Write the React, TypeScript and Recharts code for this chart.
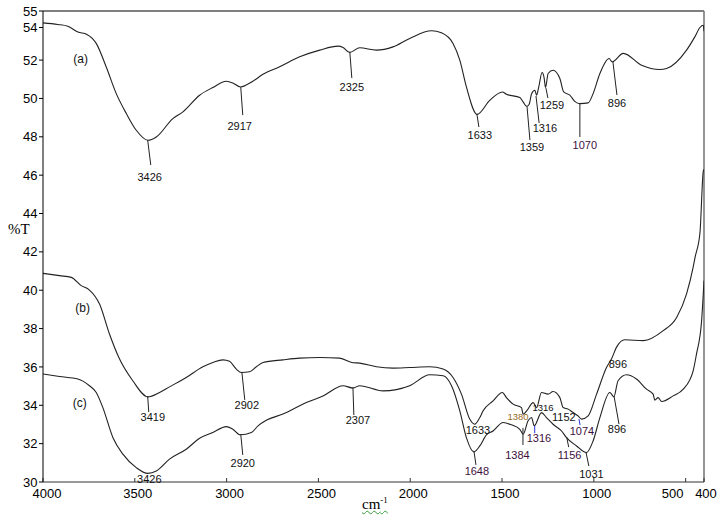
import React from 'react';
import { LineChart, Line, XAxis, YAxis, ReferenceLine, ReferenceDot } from 'recharts';

// FTIR spectra, wavenumber (cm-1) vs %T
const waveA = [4000, 3919, 3865, 3810, 3761, 3710, 3656, 3601, 3546, 3492, 3429, 3383, 3293, 3238, 3147, 3075, 3002, 2966, 2925, 2857, 2802, 2711, 2602, 2493, 2393, 2366, 2330, 2275, 2184, 2094, 2003, 1884, 1830, 1767, 1730, 1694, 1636, 1567, 1498, 1476, 1403, 1385, 1366, 1352, 1339, 1321, 1312, 1300, 1282, 1271, 1263, 1249, 1222, 1185, 1164, 1131, 1104, 1076, 1031, 1004, 967, 917, 900, 840, 740, 640, 604, 495, 450, 422, 404, 400];
const transA = [53.94, 53.86, 53.77, 53.46, 53.34, 52.87, 51.65, 50.25, 49.21, 48.34, 47.82, 47.99, 48.95, 49.3, 50.17, 50.57, 50.9, 50.81, 50.6, 50.9, 51.26, 51.65, 52.17, 52.52, 52.73, 52.66, 52.4, 52.64, 52.52, 52.69, 53.13, 53.53, 53.42, 52.87, 52.0, 50.6, 49.17, 49.9, 50.34, 50.22, 50.05, 49.82, 49.59, 49.7, 50.25, 50.43, 50.17, 50.6, 51.35, 51.09, 50.57, 51.3, 51.47, 51.04, 50.34, 50.17, 49.85, 49.73, 49.77, 50.25, 51.3, 52.08, 51.91, 52.35, 51.73, 51.51, 51.56, 52.52, 53.21, 53.7, 53.82, 53.5];

const waveB = [4000, 3910, 3846, 3792, 3747, 3692, 3638, 3583, 3511, 3429, 3365, 3311, 3220, 3129, 3075, 3020, 2984, 2947, 2920, 2875, 2838, 2802, 2693, 2602, 2493, 2384, 2312, 2275, 2184, 2094, 2003, 1894, 1821, 1767, 1721, 1676, 1649, 1621, 1603, 1549, 1498, 1476, 1440, 1394, 1385, 1366, 1330, 1312, 1285, 1249, 1222, 1185, 1167, 1140, 1113, 1086, 1067, 1031, 985, 931, 904, 877, 831, 731, 622, 549, 495, 459, 449, 422, 404, 400];
const transB = [40.88, 40.76, 40.67, 40.24, 40.01, 39.28, 37.72, 36.41, 35.28, 34.44, 34.67, 34.96, 35.45, 36.01, 36.23, 36.37, 36.29, 35.89, 35.71, 35.75, 36.01, 36.23, 36.37, 36.46, 36.49, 36.46, 36.22, 36.2, 36.01, 35.94, 35.97, 36.01, 35.89, 35.45, 34.58, 33.28, 33.01, 33.36, 33.71, 34.23, 34.67, 34.4, 34.06, 33.88, 33.54, 33.71, 34.14, 33.88, 34.67, 34.58, 34.72, 34.4, 33.88, 33.8, 33.62, 33.45, 33.28, 33.45, 34.58, 35.97, 36.41, 37.02, 37.42, 37.37, 37.89, 38.58, 39.81, 41.2, 41.7, 43.0, 46.2, 46.3];

const waveC = [4000, 3910, 3810, 3747, 3710, 3674, 3619, 3565, 3492, 3429, 3383, 3311, 3220, 3147, 3075, 3002, 2966, 2925, 2865, 2829, 2784, 2693, 2566, 2475, 2366, 2312, 2275, 2148, 2003, 1894, 1821, 1775, 1730, 1694, 1654, 1621, 1585, 1549, 1494, 1449, 1403, 1385, 1358, 1339, 1325, 1285, 1258, 1222, 1176, 1149, 1094, 1040, 1004, 967, 913, 891, 868, 822, 768, 713, 677, 668, 650, 631, 568, 513, 459, 441, 413, 404, 400];
const transC = [35.63, 35.5, 35.37, 35.02, 34.67, 33.88, 32.31, 31.45, 30.75, 30.45, 30.57, 31.19, 31.71, 32.28, 32.58, 32.89, 32.75, 32.46, 32.58, 32.93, 33.22, 33.54, 34.14, 34.49, 35.02, 34.9, 35.02, 34.75, 35.02, 35.59, 35.54, 35.02, 33.71, 32.31, 31.57, 31.88, 32.46, 32.66, 33.1, 32.98, 32.75, 32.49, 33.19, 33.36, 32.93, 33.62, 33.36, 33.01, 32.66, 32.31, 31.88, 31.53, 32.14, 33.36, 34.67, 34.44, 35.28, 35.59, 35.37, 34.84, 34.58, 34.27, 34.4, 34.2, 34.49, 34.84, 35.8, 36.67, 38.41, 39.8, 40.5];

const xTicks = [4000, 3500, 3000, 2500, 2000, 1500, 1000, 500, 400];
const yTicks = [30, 32, 34, 36, 38, 40, 42, 44, 46, 48, 50, 52, 53.7, 54.56];
const yTickLabels = ['30', '32', '34', '36', '38', '40', '42', '44', '46', '48', '50', '52', '54', '55'];

const curveNames = ['(a)', '(b)', '(c)'];
const curveNameAt = [[3795, 52.06], [3784, 39.07], [3800, 34.12]];

type Peak = {
  text: string;
  lx: number;
  ly: number;
  from?: [number, number];
  to?: [number, number];
  kind?: 'purple' | 'small' | 'smallOrange' | 'blueTick';
};

const peaksA: Peak[] = [
  { text: '3426', from: [3430, 47.83], to: [3413, 46.53], lx: 3419, ly: 45.9 },
  { text: '2917', from: [2923, 50.59], to: [2912, 49.13], lx: 2929, ly: 48.56 },
  { text: '2325', from: [2329, 52.42], to: [2318, 51.06], lx: 2318, ly: 50.6 },
  { text: '1633', from: [1637, 49.19], to: [1626, 48.51], lx: 1621, ly: 48.09 },
  { text: '1359', from: [1364, 49.6], to: [1348, 47.83], lx: 1337, ly: 47.47 },
  { text: '1316', from: [1315, 50.13], to: [1298, 48.72], lx: 1266, ly: 48.46 },
  { text: '1259', from: [1261, 50.54], to: [1250, 50.02], lx: 1228, ly: 49.66 },
  { text: '1070', from: [1076, 49.76], to: [1076, 47.99], lx: 1049, ly: 47.57, kind: 'purple' },
  { text: '896', from: [896, 51.9], to: [874, 50.18], lx: 874, ly: 49.76 },
];

const peaksB: Peak[] = [
  { text: '3419', from: [3430, 34.48], to: [3424, 33.65], lx: 3402, ly: 33.39 },
  { text: '2902', from: [2917, 35.74], to: [2901, 34.28], lx: 2890, ly: 34.01 },
  { text: '1633', lx: 1631, ly: 32.71 },
  { text: '1380', lx: 1413, ly: 33.39, kind: 'smallOrange' },
  { text: '1316', lx: 1277, ly: 33.86, kind: 'small' },
  { text: '1152', lx: 1163, ly: 33.39 },
  { text: '1074', from: [1081, 33.28], to: [1075, 32.97], lx: 1065, ly: 32.66, kind: 'blueTick' },
  { text: '896', lx: 869, ly: 36.15 },
];

const peaksC: Peak[] = [
  { text: '3426', lx: 3421, ly: 30.17 },
  { text: '2920', from: [2923, 32.5], to: [2912, 31.41], lx: 2912, ly: 30.99 },
  { text: '2307', from: [2312, 34.95], to: [2307, 33.49], lx: 2285, ly: 33.23 },
  { text: '1648', from: [1653, 31.62], to: [1642, 30.89], lx: 1637, ly: 30.57, kind: 'purple' },
  { text: '1384', from: [1386, 32.82], to: [1386, 31.93], lx: 1416, ly: 31.41, kind: 'purple' },
  { text: '1316', from: [1322, 32.92], to: [1322, 32.55], lx: 1299, ly: 32.29, kind: 'blueTick' },
  { text: '1156', from: [1148, 32.35], to: [1137, 31.82], lx: 1132, ly: 31.41, kind: 'purple' },
  { text: '1031', from: [1043, 31.56], to: [1027, 30.83], lx: 1013, ly: 30.42 },
  { text: '896', from: [890, 34.48], to: [863, 33.02], lx: 874, ly: 32.76 },
];

const toRows = (w: number[], t: number[]) => w.map((x, i) => ({ x, t: t[i] }));
const series = [toRows(waveA, transA), toRows(waveB, transB), toRows(waveC, transC)];
const allPeaks = [...peaksA, ...peaksB, ...peaksC];

const font = '"Liberation Sans", Arial, sans-serif';

const XTick = ({ x, y, payload }: any) => {
  const v = payload.value;
  const dx = v === 500 ? -13 : v === 4000 ? 4 : v === 400 ? 2 : 3;
  return (
    <text x={x + dx} y={y} dy={11} textAnchor="middle" fontSize={13} fontFamily={font} fill="#000">
      {v}
    </text>
  );
};

const peakText = (p: Peak) => (props: any) => {
  const small = p.kind === 'small' || p.kind === 'smallOrange';
  const fill = p.kind === 'smallOrange' ? '#9a6a1c' : p.kind === 'purple' || p.kind === 'blueTick' ? '#3e0f3e' : '#111';
  return (
    <text
      x={props.cx}
      y={props.cy}
      dy={small ? 3 : 4}
      textAnchor="middle"
      fontSize={small ? 9.5 : 11}
      fontFamily={font}
      fill={fill}
    >
      {p.text}
    </text>
  );
};

export default function App() {
  return (
    <div style={{ position: 'absolute', left: 0, top: 0, width: 728, height: 521, background: '#fff' }}>
      <LineChart width={728} height={521} margin={{ top: 11, right: 24, bottom: 9, left: 5 }}>
        <XAxis
          type="number"
          dataKey="x"
          domain={[400, 4000]}
          reversed
          ticks={xTicks}
          interval={0}
          allowDataOverflow
          height={30}
          tickSize={-4}
          tickMargin={9}
          stroke="#333"
          tick={<XTick />}
        />
        <YAxis
          type="number"
          dataKey="t"
          domain={[30, 54.56]}
          ticks={yTicks}
          interval={0}
          allowDataOverflow
          width={38}
          tickSize={4}
          tickMargin={1.5}
          stroke="#000"
          tick={{ fill: '#000', fontSize: 13, fontFamily: font }}
          tickFormatter={(v: number) => yTickLabels[yTicks.indexOf(v)] ?? String(v)}
        />
        <ReferenceLine y={54.56} stroke="#000" strokeWidth={1.2} />
        <ReferenceLine x={400} stroke="#7a7a7a" strokeWidth={1.6} />
        {series.map((rows, i) => (
          <Line
            key={curveNames[i]}
            data={rows}
            dataKey="t"
            type="monotone"
            stroke="#222"
            strokeWidth={1.1}
            dot={false}
            activeDot={false}
            isAnimationActive={false}
          />
        ))}
        {allPeaks.map((p, i) =>
          p.from && p.to ? (
            <ReferenceLine
              key={'l' + i}
              segment={[{ x: p.from[0], y: p.from[1] }, { x: p.to[0], y: p.to[1] }]}
              stroke={p.kind === 'blueTick' ? '#2233dd' : '#222'}
              strokeWidth={1}
              ifOverflow="visible"
            />
          ) : null
        )}
        {allPeaks.map((p, i) => (
          <ReferenceDot key={'t' + i} x={p.lx} y={p.ly} r={0} ifOverflow="visible" shape={peakText(p)} />
        ))}
        {curveNames.map((name, i) => (
          <ReferenceDot
            key={name}
            x={curveNameAt[i][0]}
            y={curveNameAt[i][1]}
            r={0}
            ifOverflow="visible"
            shape={(props: any) => (
              <text x={props.cx} y={props.cy} dy={4} textAnchor="middle" fontSize={12} fontFamily={font} fill="#111">
                {name}
              </text>
            )}
          />
        ))}
      </LineChart>
      <div style={{ position: 'absolute', left: 8, top: 221, fontFamily: '"Liberation Serif", serif', fontSize: 15 }}>%T</div>
      <div
        style={{
          position: 'absolute',
          left: 362,
          top: 495,
          fontFamily: '"Liberation Serif", serif',
          fontSize: 15,
          textDecoration: 'underline wavy #3a9a3a',
          textDecorationThickness: 1,
        }}
      >
        cm<sup style={{ fontSize: 9 }}>-1</sup>
      </div>
    </div>
  );
}
